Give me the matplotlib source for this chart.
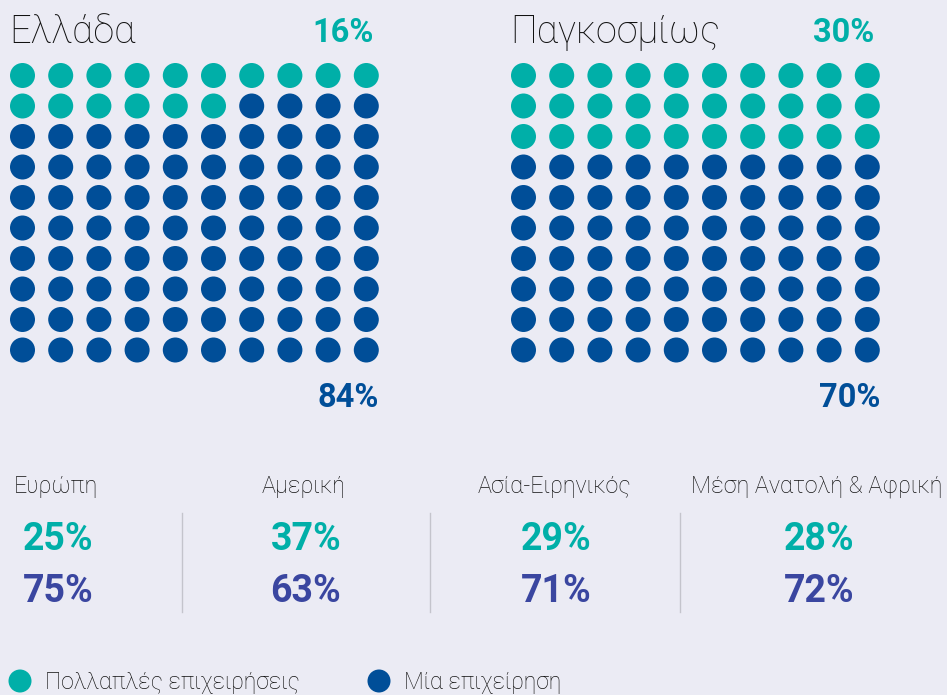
import matplotlib
matplotlib.use("Agg")
import matplotlib.pyplot as plt
from matplotlib.patches import Circle

# ---- data ----
groups = ["Ελλάδα", "Παγκοσμίως"]
group_multi = [16, 30]
group_single = [84, 70]
regions = ["Ευρώπη", "Αμερική", "Ασία-Ειρηνικός", "Μέση Ανατολή & Αφρική"]
region_multi = [25, 37, 29, 28]
region_single = [75, 63, 71, 72]
legend_labels = ["Πολλαπλές επιχειρήσεις", "Μία επιχείρηση"]

# ---- style ----
BG = "#EBEBF4"
TEAL = "#00AFA8"
BLUE = "#004E98"
INDIGO = "#3A46A0"
FONT = ["Roboto", "DejaVu Sans"]

W, H = 947, 695
fig = plt.figure(figsize=(W / 100, H / 100), dpi=100, facecolor=BG)
ax = fig.add_axes([0, 0, 1, 1])
ax.set_facecolor(BG)
ax.set_xlim(0, W)
ax.set_ylim(H, 0)
ax.axis("off")

grid_x0 = [22.5, 523.5]
dx, dy = 38.2, 30.5
y0 = 75.5
r = 12.5

for g, (name, m, s) in enumerate(zip(groups, group_multi, group_single)):
    x0 = grid_x0[g]
    for i in range(100):
        row, col = divmod(i, 10)
        c = TEAL if i < m else BLUE
        ax.add_patch(Circle((x0 + col * dx, y0 + row * dy), r, color=c, lw=0))
    ax.text(x0 - 13, 32, name, fontsize=27.3, family=FONT, fontweight="light",
            color="#111111", ha="left", va="center")
    xr = x0 + 9 * dx + 7
    ax.text(xr, 33, f"{m}%", fontsize=23.5, family=FONT, fontweight="bold",
            color=TEAL, ha="right", va="center")
    ax.text(xr + 6, 398, f"{s}%", fontsize=23.5, family=FONT, fontweight="bold",
            color=BLUE, ha="right", va="center")

col_centers = [56, 304, 554, 817]
for i, (name, m, s) in enumerate(zip(regions, region_multi, region_single)):
    cx = col_centers[i]
    ax.text(cx, 486, name, fontsize=16.8, family=FONT, fontweight="light",
            color="#111111", ha="center", va="center")
    ax.text(cx + 2, 540, f"{m}%", fontsize=27, family=FONT, fontweight="bold",
            color=TEAL, ha="center", va="center")
    ax.text(cx + 2, 592, f"{s}%", fontsize=27, family=FONT, fontweight="bold",
            color=INDIGO, ha="center", va="center")

for xl in [182, 430, 680]:
    ax.plot([xl, xl], [513, 612], color="#C4C4CC", lw=1)

leg_x = [20, 379]
for lx, lab, c in zip(leg_x, legend_labels, [TEAL, BLUE]):
    ax.add_patch(Circle((lx, 681), 11.5, color=c, lw=0))
    ax.text(lx + 25, 682, lab, fontsize=16.6, family=FONT, fontweight="light",
            color="#111111", ha="left", va="center")

fig.savefig("out.png", dpi=100, facecolor=BG)
